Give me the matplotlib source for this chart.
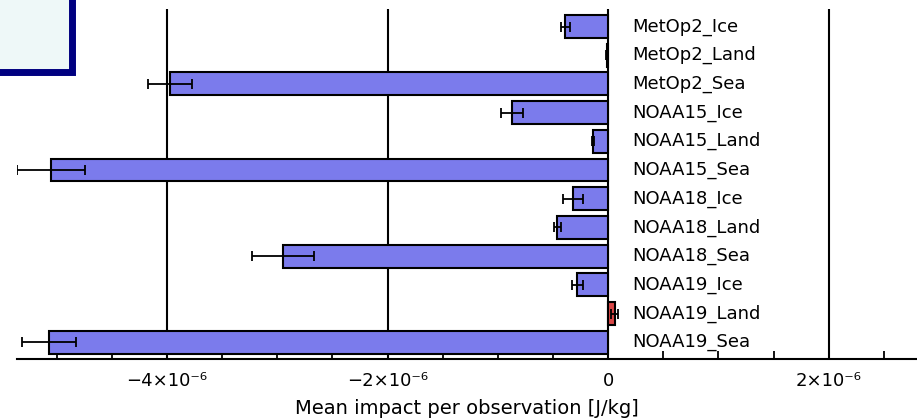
import matplotlib
matplotlib.use("Agg")
import matplotlib.pyplot as plt
from matplotlib.patches import Rectangle
import numpy as np

categories = ["MetOp2_Ice", "MetOp2_Land", "MetOp2_Sea",
              "NOAA15_Ice", "NOAA15_Land", "NOAA15_Sea",
              "NOAA18_Ice", "NOAA18_Land", "NOAA18_Sea",
              "NOAA19_Ice", "NOAA19_Land", "NOAA19_Sea"]
values = [-0.39e-6, -0.012e-6, -3.97e-6,
          -0.87e-6, -0.14e-6, -5.05e-6,
          -0.32e-6, -0.46e-6, -2.95e-6,
          -0.28e-6, 0.06e-6, -5.07e-6]
errors = [0.04e-6, 0.006e-6, 0.20e-6,
          0.10e-6, 0.01e-6, 0.31e-6,
          0.09e-6, 0.035e-6, 0.28e-6,
          0.05e-6, 0.03e-6, 0.245e-6]
xticks = [-4e-6, -2e-6, 0, 2e-6]
xticklabels = ["\u22124\u00d710\u207b\u2076", "\u22122\u00d710\u207b\u2076", "0", "2\u00d710\u207b\u2076"]
xlabel = "Mean impact per observation [J/kg]"

plt.rcParams['font.family'] = ['DejaVu Sans']

fig = plt.figure(figsize=(9.17, 4.18), dpi=100)
W, H = 917, 418
ax = fig.add_axes([17 / W, 1 - 359 / H, 1 - 17 / W, (359 - 9) / H])

blue = "#7b7bec"
red = "#d94848"
colors = [red if v > 0 else blue for v in values]
y = np.arange(len(categories))

ax.set_xlim(-5.36e-6, 2.8e-6)
ax.set_ylim(11.585, -0.61)

for xt in xticks:
    ax.axvline(xt, color="black", lw=1.5, zorder=1)

ax.barh(y, values, height=0.8, color=colors, edgecolor="black", linewidth=1.5, zorder=2)
ax.errorbar(values, y, xerr=errors, fmt="none", ecolor="black", elinewidth=1.3,
            capsize=3.3, capthick=1.3, zorder=3)

for yi, lab in zip(y, categories):
    ax.text(0.22e-6, yi, lab, ha="left", va="center", fontsize=13, color="black", zorder=4)

for s in ["top", "left", "right"]:
    ax.spines[s].set_visible(False)
ax.spines["bottom"].set_linewidth(1.5)
ax.set_yticks([])
ax.set_xticks(xticks)
ax.set_xticklabels(xticklabels, fontsize=13)
ax.set_xticks(np.arange(-5e-6, 2.8e-6, 0.5e-6), minor=True)
ax.tick_params(axis="x", which="both", direction="in", length=6, width=1.3, pad=9)
ax.set_xlabel(xlabel, fontsize=14, labelpad=7)
ax.set_facecolor("white")

# cut-off box in top-left corner
box = Rectangle((-20 / W, 1 - 71.5 / H), 91.5 / W, 100 / H, transform=fig.transFigure,
                facecolor="#eef8f8", edgecolor="#000080", linewidth=5, clip_on=False, zorder=10)
fig.patches.append(box)

fig.savefig("out.png", dpi=100)
